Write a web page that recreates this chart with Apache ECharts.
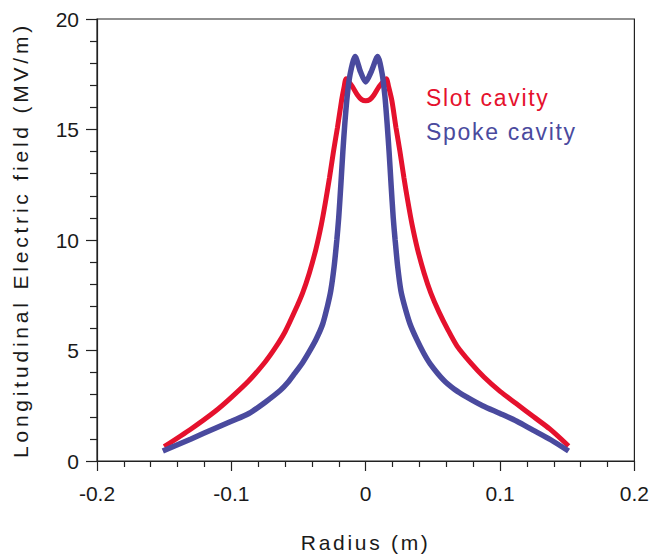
<!DOCTYPE html>
<html><head><meta charset="utf-8">
<script src="https://cdn.jsdelivr.net/npm/echarts@6/dist/echarts.min.js"></script>
<style>html,body{margin:0;padding:0;background:#fff}#c{width:652px;height:559px}</style>
</head><body><div id="c"></div>
<script>
const seriesNames = ['Slot cavity', 'Spoke cavity'];
const xTicks = [-0.2, -0.1, 0, 0.1, 0.2];
const yTicks = [0, 5, 10, 15, 20];

const slotR = [-0.150, -0.130, -0.112, -0.100, -0.087, -0.075, -0.067, -0.060, -0.053, -0.047, -0.042, -0.037, -0.033, -0.030, -0.027, -0.024, -0.021, -0.018, -0.016, -0.0145, -0.010, -0.006, -0.003, 0, 0.003, 0.006, 0.010, 0.0155, 0.017, 0.0195, 0.0225, 0.0255, 0.0285, 0.0315, 0.0345, 0.0385, 0.0435, 0.0485, 0.0545, 0.0615, 0.068, 0.078, 0.088, 0.100, 0.112, 0.125, 0.137, 0.151];
const slotE = [0.65, 1.45, 2.25, 2.88, 3.63, 4.47, 5.15, 5.85, 6.75, 7.6, 8.5, 9.6, 10.7, 11.7, 12.8, 14.0, 15.1, 16.3, 16.95, 17.3, 16.95, 16.55, 16.35, 16.3, 16.35, 16.55, 16.95, 17.3, 16.95, 16.3, 15.1, 14.0, 12.8, 11.7, 10.7, 9.6, 8.5, 7.6, 6.75, 5.9, 5.2, 4.45, 3.8, 3.15, 2.6, 2.0, 1.45, 0.68];

const spokeR = [-0.151, -0.130, -0.112, -0.100, -0.087, -0.075, -0.0635, -0.058, -0.053, -0.047, -0.042, -0.037, -0.032, -0.0285, -0.026, -0.0235, -0.0215, -0.0201, -0.0185, -0.017, -0.0155, -0.0138, -0.0116, -0.0079, -0.0038, 0, 0.0040, 0.0089, 0.0123, 0.0143, 0.0159, 0.0174, 0.0189, 0.0205, 0.0219, 0.0238, 0.0262, 0.029, 0.033, 0.038, 0.043, 0.048, 0.058, 0.066, 0.075, 0.087, 0.100, 0.1125, 0.1245, 0.138, 0.151];
const spokeE = [0.45, 1.0, 1.48, 1.8, 2.15, 2.65, 3.2, 3.55, 3.95, 4.45, 4.95, 5.5, 6.2, 7.0, 7.7, 8.8, 10.0, 11.0, 12.5, 14.0, 15.3, 16.5, 17.5, 18.3, 17.6, 17.15, 17.6, 18.3, 17.5, 16.5, 15.3, 14.0, 12.5, 11.0, 10.0, 8.8, 7.7, 7.0, 6.2, 5.5, 4.9, 4.4, 3.66, 3.25, 2.9, 2.5, 2.15, 1.8, 1.4, 0.95, 0.45];

const RED = '#e5112d';
const BLUE = '#4a4a9e';
const INK = '#1a1a1a';
const FONT = 'Liberation Sans';

const chart = echarts.init(document.getElementById('c'), null, {renderer: 'svg'});
const axisCommon = {
  type: 'value',
  splitLine: {show: false},
  axisLine: {onZero: false, lineStyle: {color: '#222', width: 1.2}},
  axisLabel: {fontSize: 21, color: INK, fontFamily: FONT},
  nameLocation: 'middle',
  nameTextStyle: {fontSize: 21, color: INK, fontFamily: FONT}
};
chart.setOption({
  animation: false,
  backgroundColor: '#fff',
  grid: {left: 97, right: 13, top: 19, bottom: 98, show: true, borderColor: '#222', borderWidth: 1.2, backgroundColor: 'transparent'},
  legend: {
    orient: 'vertical', left: 416, top: 80, itemWidth: 0, itemHeight: 0, itemGap: 8, icon: 'rect', selectedMode: false,
    data: [{name: seriesNames[0], textStyle: {color: RED}}, {name: seriesNames[1], textStyle: {color: BLUE}}],
    textStyle: {fontSize: 23, fontFamily: FONT, lineHeight: 26}
  },
  xAxis: Object.assign({}, axisCommon, {
    min: xTicks[0], max: xTicks[xTicks.length - 1], interval: xTicks[1] - xTicks[0],
    axisTick: {length: 10, lineStyle: {color: '#222', width: 1.2}},
    minorTick: {show: true, splitNumber: 5, length: 6, lineStyle: {color: '#222', width: 1.2}},
    axisLabel: Object.assign({}, axisCommon.axisLabel, {margin: 22, formatter: v => String(Math.round(v * 10) / 10)}),
    name: 'Radius (m)', nameGap: 71
  }),
  yAxis: Object.assign({}, axisCommon, {
    min: yTicks[0], max: yTicks[yTicks.length - 1], interval: yTicks[1] - yTicks[0],
    axisTick: {length: 11, lineStyle: {color: '#222', width: 1.2}},
    minorTick: {show: true, splitNumber: 5, length: 7, lineStyle: {color: '#222', width: 1.2}},
    axisLabel: Object.assign({}, axisCommon.axisLabel, {margin: 18}),
    name: 'Longitudinal Electric field (MV/m)', nameGap: 66
  }),
  series: [
    {name: seriesNames[0], type: 'line', data: slotR.map((r, i) => [r, slotE[i]]), symbol: 'none', smooth: 0.25,
     lineStyle: {color: RED, width: 5}, itemStyle: {color: RED}},
    {name: seriesNames[1], type: 'line', data: spokeR.map((r, i) => [r, spokeE[i]]), symbol: 'none', smooth: 0.25,
     lineStyle: {color: BLUE, width: 5.5}, itemStyle: {color: BLUE}}
  ]
});
const spacing = {'Longitudinal Electric field (MV/m)': '3.8px', 'Radius (m)': '2.7px', 'Slot cavity': '1.7px', 'Spoke cavity': '1.7px'};
function applySpacing() {
  document.querySelectorAll('#c text').forEach(t => { const s = spacing[t.textContent]; if (s) t.style.letterSpacing = s; });
}
applySpacing();
chart.on('finished', applySpacing);
</script></body></html>
